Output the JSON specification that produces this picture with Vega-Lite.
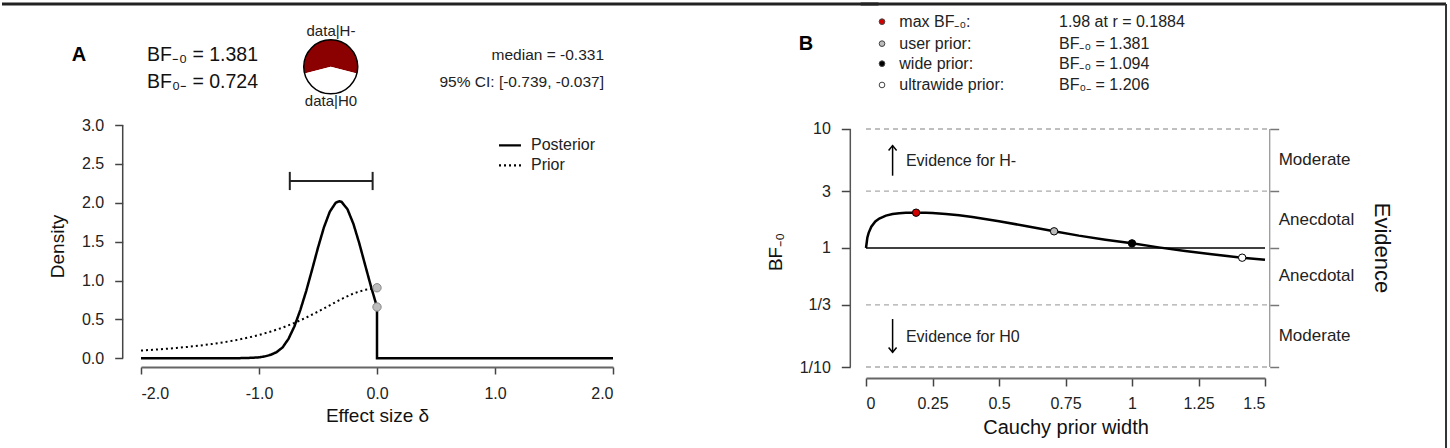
{
  "$schema": "https://vega.github.io/schema/vega-lite/v6.json",
  "padding": 0,
  "autosize": {"type": "pad"},
  "background": "white",
  "bounds": "flush",
  "spacing": 253,
  "resolve": {"scale": {"fill": "independent", "strokeDash": "independent", "strokeWidth": "independent"}},
  "config": {
    "view": {"stroke": null},
    "font": "Liberation Sans",
    "axis": {"grid": false, "labelColor": "#222", "titleColor": "#111", "titleFontWeight": "normal", "tickColor": "#444", "domainColor": "#444", "tickWidth": 1.5, "domainWidth": 1.5, "labelFontSize": 16, "titleFontSize": 19}
  },
  "hconcat": [
    {
      "width": 472,
      "height": 242,
      "layer": [
        {
          "data": {"values": [
            {"series": "Posterior", "i": 0, "x": -2.0, "y": 0},
            {"series": "Posterior", "i": 1, "x": -1.5, "y": 0},
            {"series": "Posterior", "i": 2, "x": -1.2, "y": 0.001},
            {"series": "Posterior", "i": 3, "x": -1.1, "y": 0.004},
            {"series": "Posterior", "i": 4, "x": -1.0, "y": 0.012},
            {"series": "Posterior", "i": 5, "x": -0.95, "y": 0.025},
            {"series": "Posterior", "i": 6, "x": -0.9, "y": 0.045},
            {"series": "Posterior", "i": 7, "x": -0.85, "y": 0.08},
            {"series": "Posterior", "i": 8, "x": -0.8, "y": 0.14},
            {"series": "Posterior", "i": 9, "x": -0.75, "y": 0.25},
            {"series": "Posterior", "i": 10, "x": -0.7, "y": 0.41},
            {"series": "Posterior", "i": 11, "x": -0.65, "y": 0.62},
            {"series": "Posterior", "i": 12, "x": -0.6, "y": 0.865},
            {"series": "Posterior", "i": 13, "x": -0.55, "y": 1.14},
            {"series": "Posterior", "i": 14, "x": -0.5, "y": 1.423},
            {"series": "Posterior", "i": 15, "x": -0.45, "y": 1.683},
            {"series": "Posterior", "i": 16, "x": -0.4, "y": 1.885},
            {"series": "Posterior", "i": 17, "x": -0.35, "y": 2.0},
            {"series": "Posterior", "i": 18, "x": -0.32, "y": 2.02},
            {"series": "Posterior", "i": 19, "x": -0.3, "y": 2.011},
            {"series": "Posterior", "i": 20, "x": -0.25, "y": 1.916},
            {"series": "Posterior", "i": 21, "x": -0.2, "y": 1.729},
            {"series": "Posterior", "i": 22, "x": -0.15, "y": 1.478},
            {"series": "Posterior", "i": 23, "x": -0.1, "y": 1.197},
            {"series": "Posterior", "i": 24, "x": -0.05, "y": 0.918},
            {"series": "Posterior", "i": 25, "x": 0.0, "y": 0.66},
            {"series": "Posterior", "i": 26, "x": 0.0, "y": 0},
            {"series": "Posterior", "i": 27, "x": 2.0, "y": 0},
            {"series": "Prior", "i": 0, "x": -2.0, "y": 0.1},
            {"series": "Prior", "i": 1, "x": -1.9, "y": 0.1095},
            {"series": "Prior", "i": 2, "x": -1.8, "y": 0.1204},
            {"series": "Prior", "i": 3, "x": -1.7, "y": 0.1328},
            {"series": "Prior", "i": 4, "x": -1.6, "y": 0.1471},
            {"series": "Prior", "i": 5, "x": -1.5, "y": 0.1637},
            {"series": "Prior", "i": 6, "x": -1.4, "y": 0.183},
            {"series": "Prior", "i": 7, "x": -1.3, "y": 0.2056},
            {"series": "Prior", "i": 8, "x": -1.2, "y": 0.232},
            {"series": "Prior", "i": 9, "x": -1.1, "y": 0.2632},
            {"series": "Prior", "i": 10, "x": -1.0, "y": 0.3001},
            {"series": "Prior", "i": 11, "x": -0.9, "y": 0.3436},
            {"series": "Prior", "i": 12, "x": -0.8, "y": 0.3949},
            {"series": "Prior", "i": 13, "x": -0.7, "y": 0.4547},
            {"series": "Prior", "i": 14, "x": -0.6, "y": 0.5234},
            {"series": "Prior", "i": 15, "x": -0.5, "y": 0.6002},
            {"series": "Prior", "i": 16, "x": -0.4, "y": 0.682},
            {"series": "Prior", "i": 17, "x": -0.3, "y": 0.763},
            {"series": "Prior", "i": 18, "x": -0.2, "y": 0.8336},
            {"series": "Prior", "i": 19, "x": -0.1, "y": 0.8826},
            {"series": "Prior", "i": 20, "x": 0.0, "y": 0.9003}
          ]},
          "mark": {"type": "line", "color": "black"},
          "encoding": {
            "x": {"field": "x", "type": "quantitative", "scale": {"domain": [-2, 2], "nice": false, "zero": false},
              "axis": {"values": [-2, -1, 0, 1, 2], "labelExpr": "replace(format(datum.value, '.1f'), '\u2212', '-')", "title": "Effect size δ", "tickSize": 7, "labelPadding": 11, "titlePadding": 5, "domainColor": "#666", "domainWidth": 2}},
            "y": {"field": "y", "type": "quantitative", "scale": {"domain": [-0.1119, 3], "nice": false, "zero": false},
              "axis": {"values": [0, 0.5, 1, 1.5, 2, 2.5, 3], "format": ".1f", "title": "Density", "domain": false, "offset": 18.3, "tickSize": 8, "labelPadding": 11, "titlePadding": 14}},
            "strokeDash": {"field": "series", "type": "nominal", "scale": {"domain": ["Posterior", "Prior"], "range": [[1, 0], [2, 3]]}, "legend": null},
            "strokeWidth": {"field": "series", "type": "nominal", "scale": {"domain": ["Posterior", "Prior"], "range": [2.5, 2]}, "legend": null},
            "order": {"field": "i", "type": "quantitative"}
          }
        },
        {
          "data": {"values": [{"x": -2.155, "y": 0, "y2": 3}]},
          "mark": {"type": "rule", "color": "#444", "strokeWidth": 1.5},
          "encoding": {
            "x": {"field": "x", "type": "quantitative"},
            "y": {"field": "y", "type": "quantitative"},
            "y2": {"field": "y2"}
          }
        },
        {
          "data": {"values": [
            {"x": -0.739, "x2": -0.037, "y": 2.28, "y2": 2.28},
            {"x": -0.739, "x2": -0.739, "y": 2.163, "y2": 2.397},
            {"x": -0.037, "x2": -0.037, "y": 2.163, "y2": 2.397}
          ]},
          "mark": {"type": "rule", "color": "#222", "strokeWidth": 2},
          "encoding": {
            "x": {"field": "x", "type": "quantitative"},
            "x2": {"field": "x2"},
            "y": {"field": "y", "type": "quantitative"},
            "y2": {"field": "y2"}
          }
        },
        {
          "data": {"values": [{"x": 0, "y": 0.907}, {"x": 0, "y": 0.66}]},
          "mark": {"type": "point", "filled": true, "fill": "#bdbdbd", "stroke": "#888", "strokeWidth": 1, "size": 70, "opacity": 1},
          "encoding": {
            "x": {"field": "x", "type": "quantitative"},
            "y": {"field": "y", "type": "quantitative"}
          }
        },
        {
          "data": {"values": [
            {"series": "Posterior", "x": 1.034, "x2": 1.22, "y": 2.739},
            {"series": "Prior", "x": 1.034, "x2": 1.22, "y": 2.482}
          ]},
          "mark": {"type": "rule", "color": "black", "strokeWidth": 2.2},
          "encoding": {
            "x": {"field": "x", "type": "quantitative"},
            "x2": {"field": "x2"},
            "y": {"field": "y", "type": "quantitative"},
            "strokeDash": {"field": "series", "type": "nominal", "legend": null}
          }
        },
        {
          "data": {"values": [
            {"label": "Posterior", "x": 1.305, "y": 2.739},
            {"label": "Prior", "x": 1.305, "y": 2.482}
          ]},
          "mark": {"type": "text", "align": "left", "baseline": "middle", "fontSize": 16, "color": "#222"},
          "encoding": {
            "x": {"field": "x", "type": "quantitative"},
            "y": {"field": "y", "type": "quantitative"},
            "text": {"field": "label"}
          }
        },
        {
          "data": {"values": [{"label": "A", "x": -2.525, "y": 3.9}]},
          "mark": {"type": "text", "align": "center", "baseline": "middle", "fontSize": 20, "fontWeight": "bold", "color": "black"},
          "encoding": {
            "x": {"field": "x", "type": "quantitative"},
            "y": {"field": "y", "type": "quantitative"},
            "text": {"field": "label"}
          }
        },
        {
          "data": {"values": [
            {"label": "BF₋₀ = 1.381", "x": -1.949, "y": 3.9},
            {"label": "BF₀₋ = 0.724", "x": -1.949, "y": 3.553}
          ]},
          "mark": {"type": "text", "align": "left", "baseline": "middle", "fontSize": 19.5, "color": "#111"},
          "encoding": {
            "x": {"field": "x", "type": "quantitative"},
            "y": {"field": "y", "type": "quantitative"},
            "text": {"field": "label"}
          }
        },
        {
          "data": {"values": [
            {"label": "median = -0.331", "x": 1.924, "y": 3.9},
            {"label": "95% CI: [-0.739, -0.037]", "x": 1.924, "y": 3.553}
          ]},
          "mark": {"type": "text", "align": "right", "baseline": "middle", "fontSize": 15.5, "color": "#222"},
          "encoding": {
            "x": {"field": "x", "type": "quantitative"},
            "y": {"field": "y", "type": "quantitative"},
            "text": {"field": "label"}
          }
        },
        {
          "data": {"values": [
            {"label": "data|H-", "x": -0.39, "y": 4.209},
            {"label": "data|H0", "x": -0.39, "y": 3.308}
          ]},
          "mark": {"type": "text", "align": "center", "baseline": "middle", "fontSize": 15, "color": "#222"},
          "encoding": {
            "x": {"field": "x", "type": "quantitative"},
            "y": {"field": "y", "type": "quantitative"},
            "text": {"field": "label"}
          }
        },
        {
          "data": {"values": [
            {"part": "data|H-", "t0": 0, "t1": 0.58, "x": -0.392, "y": 3.748},
            {"part": "data|H0", "t0": 0.58, "t1": 1, "x": -0.392, "y": 3.748}
          ]},
          "mark": {"type": "arc", "outerRadius": 27},
          "encoding": {
            "x": {"field": "x", "type": "quantitative"},
            "y": {"field": "y", "type": "quantitative"},
            "theta": {"field": "t0", "type": "quantitative", "scale": {"domain": [0, 1], "range": [-1.8221, 4.4611]}},
            "theta2": {"field": "t1"},
            "fill": {"field": "part", "type": "nominal", "scale": {"domain": ["data|H-", "data|H0"], "range": ["#8b0000", "#ffffff"]}, "legend": null}
          }
        },
        {
          "data": {"values": [{"x": -0.392, "y": 3.748}]},
          "mark": {"type": "point", "shape": "circle", "filled": false, "stroke": "black", "strokeWidth": 1.5, "size": 2916, "opacity": 1},
          "encoding": {
            "x": {"field": "x", "type": "quantitative"},
            "y": {"field": "y", "type": "quantitative"}
          }
        },
        {
          "data": {"values": [{"x": -3.178, "x2": 4.25, "y": 4.556}]},
          "mark": {"type": "rule", "color": "#222", "strokeWidth": 3},
          "encoding": {
            "x": {"field": "x", "type": "quantitative"},
            "x2": {"field": "x2"},
            "y": {"field": "y", "type": "quantitative"}
          }
        },
        {
          "data": {"values": [{"x": -3.178, "y": 4.594}]},
          "mark": {"type": "point", "size": 1, "opacity": 0},
          "encoding": {
            "x": {"field": "x", "type": "quantitative"},
            "y": {"field": "y", "type": "quantitative"}
          }
        }
      ]
    },
    {
      "width": 399,
      "height": 253,
      "resolve": {"axis": {"y": "independent"}},
      "layer": [
        {
          "data": {"values": [
            {"r": 0, "bf": 1.0},
            {"r": 0.005, "bf": 1.22},
            {"r": 0.01, "bf": 1.34},
            {"r": 0.02, "bf": 1.51},
            {"r": 0.035, "bf": 1.67},
            {"r": 0.05, "bf": 1.77},
            {"r": 0.075, "bf": 1.87},
            {"r": 0.1, "bf": 1.93},
            {"r": 0.125, "bf": 1.96},
            {"r": 0.15, "bf": 1.975},
            {"r": 0.1884, "bf": 1.98},
            {"r": 0.225, "bf": 1.975},
            {"r": 0.25, "bf": 1.965},
            {"r": 0.3, "bf": 1.93},
            {"r": 0.35, "bf": 1.88},
            {"r": 0.4, "bf": 1.82},
            {"r": 0.5, "bf": 1.68},
            {"r": 0.6, "bf": 1.53},
            {"r": 0.7071, "bf": 1.381},
            {"r": 0.8, "bf": 1.27},
            {"r": 0.9, "bf": 1.175},
            {"r": 1.0, "bf": 1.094},
            {"r": 1.1, "bf": 1.012},
            {"r": 1.2, "bf": 0.945},
            {"r": 1.3, "bf": 0.885},
            {"r": 1.4142, "bf": 0.829},
            {"r": 1.5, "bf": 0.795}
          ]},
          "mark": {"type": "line", "color": "black", "strokeWidth": 2.5},
          "encoding": {
            "x": {"field": "r", "type": "quantitative", "scale": {"domain": [0, 1.5], "nice": false, "zero": false},
              "axis": {"values": [0, 0.25, 0.5, 0.75, 1, 1.25, 1.5], "labelExpr": "'' + datum.value", "title": "Cauchy prior width", "tickSize": 8, "labelPadding": 9, "titlePadding": 6, "titleFontSize": 20, "domainColor": "#666", "domainWidth": 2}},
            "y": {"field": "bf", "type": "quantitative", "scale": {"type": "log", "domain": [0.08085, 10.8], "nice": false},
              "axis": {"orient": "left", "values": [0.1, 0.333333, 1, 3, 10], "labelExpr": "datum.value < 0.2 ? '1/10' : datum.value < 0.5 ? '1/3' : datum.value < 2 ? '1' : datum.value < 5 ? '3' : '10'", "title": "BF₋₀", "domain": false, "offset": 15.7, "tickSize": 9, "labelPadding": 11, "titlePadding": 14}}
          }
        },
        {
          "data": {"values": [
            {"x": 0, "x2": 1.5177, "y": 10},
            {"x": 0, "x2": 1.5177, "y": 3},
            {"x": 0, "x2": 1.5177, "y": 0.333333},
            {"x": 0, "x2": 1.5177, "y": 0.1}
          ]},
          "mark": {"type": "rule", "color": "#aaaaaa", "strokeWidth": 1.3, "strokeDash": [5, 4]},
          "encoding": {
            "x": {"field": "x", "type": "quantitative"},
            "x2": {"field": "x2"},
            "y": {"field": "y", "type": "quantitative",
              "axis": {"orient": "right", "values": [0.1, 0.333333, 1, 3, 10], "labels": false, "title": null, "domain": false, "offset": 4.7, "tickSize": 9, "tickColor": "#777"}}
          }
        },
        {
          "data": {"values": [{"x": 0, "x2": 1.5, "y": 1}]},
          "mark": {"type": "rule", "color": "black", "strokeWidth": 1.5},
          "encoding": {
            "x": {"field": "x", "type": "quantitative"},
            "x2": {"field": "x2"},
            "y": {"field": "y", "type": "quantitative", "axis": null}
          }
        },
        {
          "data": {"values": [{"x": -0.059, "y": 0.1, "y2": 10}]},
          "mark": {"type": "rule", "color": "#555", "strokeWidth": 1.5},
          "encoding": {
            "x": {"field": "x", "type": "quantitative"},
            "y": {"field": "y", "type": "quantitative", "axis": null},
            "y2": {"field": "y2"}
          }
        },
        {
          "data": {"values": [{"x": 1.5177, "y": 0.1, "y2": 10}]},
          "mark": {"type": "rule", "color": "#999", "strokeWidth": 1.3},
          "encoding": {
            "x": {"field": "x", "type": "quantitative"},
            "y": {"field": "y", "type": "quantitative", "axis": null},
            "y2": {"field": "y2"}
          }
        },
        {
          "data": {"values": [
            {"k": "max", "x": 0.1884, "y": 1.98},
            {"k": "user", "x": 0.7071, "y": 1.381},
            {"k": "wide", "x": 1.0, "y": 1.094},
            {"k": "ultrawide", "x": 1.4142, "y": 0.829}
          ]},
          "mark": {"type": "point", "filled": true, "stroke": "black", "strokeWidth": 1, "size": 55, "opacity": 1},
          "encoding": {
            "x": {"field": "x", "type": "quantitative"},
            "y": {"field": "y", "type": "quantitative", "axis": null},
            "fill": {"field": "k", "type": "nominal", "scale": {"domain": ["max", "user", "wide", "ultrawide"], "range": ["#d40000", "#bbbbbb", "#000000", "#ffffff"]}, "legend": null}
          }
        },
        {
          "data": {"values": [
            {"k": "max", "x": 0.0602, "y": 79.75},
            {"k": "user", "x": 0.0602, "y": 52.11},
            {"k": "wide", "x": 0.0602, "y": 35.38},
            {"k": "ultrawide", "x": 0.0602, "y": 23.43}
          ]},
          "mark": {"type": "point", "filled": true, "stroke": "#444", "strokeWidth": 1, "size": 32, "opacity": 1},
          "encoding": {
            "x": {"field": "x", "type": "quantitative"},
            "y": {"field": "y", "type": "quantitative", "axis": null},
            "fill": {"field": "k", "type": "nominal", "legend": null}
          }
        },
        {
          "data": {"values": [
            {"label": "max BF₋₀:", "x": 0.1252, "y": 79.75},
            {"label": "user prior:", "x": 0.1252, "y": 52.11},
            {"label": "wide prior:", "x": 0.1252, "y": 35.38},
            {"label": "ultrawide prior:", "x": 0.1252, "y": 23.43},
            {"label": "1.98 at r = 0.1884", "x": 0.7256, "y": 79.75},
            {"label": "BF₋₀ = 1.381", "x": 0.7256, "y": 52.11},
            {"label": "BF₋₀ = 1.094", "x": 0.7256, "y": 35.38},
            {"label": "BF₀₋ = 1.206", "x": 0.7256, "y": 23.43}
          ]},
          "mark": {"type": "text", "align": "left", "baseline": "middle", "fontSize": 16, "color": "#222"},
          "encoding": {
            "x": {"field": "x", "type": "quantitative"},
            "y": {"field": "y", "type": "quantitative", "axis": null},
            "text": {"field": "label"}
          }
        },
        {
          "data": {"values": [{"label": "B", "x": -0.2256, "y": 51.5}]},
          "mark": {"type": "text", "align": "center", "baseline": "middle", "fontSize": 20, "fontWeight": "bold", "color": "black"},
          "encoding": {
            "x": {"field": "x", "type": "quantitative"},
            "y": {"field": "y", "type": "quantitative", "axis": null},
            "text": {"field": "label"}
          }
        },
        {
          "data": {"values": [
            {"x": 0.1, "y": 4.05, "y2": 7.25},
            {"x": 0.1, "y": 0.253, "y2": 0.133}
          ]},
          "mark": {"type": "rule", "color": "black", "strokeWidth": 1.5},
          "encoding": {
            "x": {"field": "x", "type": "quantitative"},
            "y": {"field": "y", "type": "quantitative", "axis": null},
            "y2": {"field": "y2"}
          }
        },
        {
          "data": {"values": [{"x": 0.1, "y": 7.25}]},
          "mark": {"type": "point", "shape": "M-1,1.2L0,0L1,1.2", "filled": false, "stroke": "black", "strokeWidth": 1.5, "size": 64, "opacity": 1},
          "encoding": {
            "x": {"field": "x", "type": "quantitative"},
            "y": {"field": "y", "type": "quantitative", "axis": null}
          }
        },
        {
          "data": {"values": [{"x": 0.1, "y": 0.133}]},
          "mark": {"type": "point", "shape": "M-1,-1.2L0,0L1,-1.2", "filled": false, "stroke": "black", "strokeWidth": 1.5, "size": 64, "opacity": 1},
          "encoding": {
            "x": {"field": "x", "type": "quantitative"},
            "y": {"field": "y", "type": "quantitative", "axis": null}
          }
        },
        {
          "data": {"values": [
            {"label": "Evidence for H-", "x": 0.15, "y": 5.42},
            {"label": "Evidence for H0", "x": 0.15, "y": 0.18}
          ]},
          "mark": {"type": "text", "align": "left", "baseline": "middle", "fontSize": 16, "color": "#222"},
          "encoding": {
            "x": {"field": "x", "type": "quantitative"},
            "y": {"field": "y", "type": "quantitative", "axis": null},
            "text": {"field": "label"}
          }
        },
        {
          "data": {"values": [
            {"label": "Moderate", "x": 1.5515, "y": 5.477},
            {"label": "Anecdotal", "x": 1.5515, "y": 1.732},
            {"label": "Anecdotal", "x": 1.5515, "y": 0.577},
            {"label": "Moderate", "x": 1.5515, "y": 0.1826}
          ]},
          "mark": {"type": "text", "align": "left", "baseline": "middle", "fontSize": 17, "color": "#222"},
          "encoding": {
            "x": {"field": "x", "type": "quantitative"},
            "y": {"field": "y", "type": "quantitative", "axis": null},
            "text": {"field": "label"}
          }
        },
        {
          "data": {"values": [{"label": "Evidence", "x": 1.941, "y": 1.0}]},
          "mark": {"type": "text", "align": "center", "baseline": "middle", "fontSize": 22, "angle": 90, "color": "#111"},
          "encoding": {
            "x": {"field": "x", "type": "quantitative"},
            "y": {"field": "y", "type": "quantitative", "axis": null},
            "text": {"field": "label"}
          }
        },
        {
          "data": {"values": [{"x": -0.02, "x2": 2.1805, "y": 112.3}]},
          "mark": {"type": "rule", "color": "#222", "strokeWidth": 3},
          "encoding": {
            "x": {"field": "x", "type": "quantitative"},
            "x2": {"field": "x2"},
            "y": {"field": "y", "type": "quantitative", "axis": null}
          }
        },
        {
          "data": {"values": [{"x": 2.1805, "y": 112.3, "y2": 0.0205}]},
          "mark": {"type": "rule", "color": "#333", "strokeWidth": 2},
          "encoding": {
            "x": {"field": "x", "type": "quantitative"},
            "y": {"field": "y", "type": "quantitative", "axis": null},
            "y2": {"field": "y2"}
          }
        }
      ]
    }
  ]
}
